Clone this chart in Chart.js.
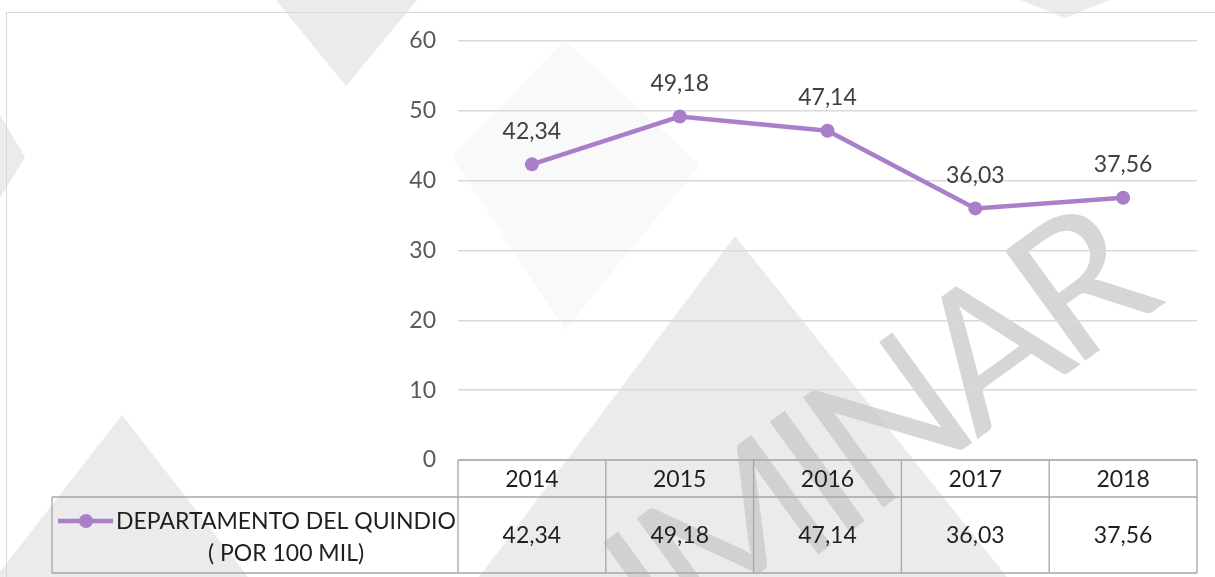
<!DOCTYPE html>
<html>
<head>
<meta charset="utf-8">
<script src="https://cdn.jsdelivr.net/npm/chart.js@4.4.1/dist/chart.umd.min.js"></script>
<style>
  body { margin: 0; background: #fff; }
  #wrap { position: relative; width: 1215px; height: 577px; overflow: hidden; background: #fff; }
  #bg { position: absolute; left: 0; top: 0; }
  #box { position: absolute; left: 6px; top: 12px; width: 1300px; height: 700px; border: 1px solid #d9d9d9; }
  #marca {
    position: absolute; right: 45px; top: 135px;
    font-family: Lato, sans-serif; font-weight: 400; font-size: 190px; line-height: 1;
    letter-spacing: -12px;
    color: rgba(200, 200, 200, 0.75); white-space: nowrap;
    transform-origin: right bottom; transform: rotate(-36deg);
  }
  #grafico { position: absolute; left: 0; top: 0; }
</style>
</head>
<body>
<div id="wrap">
  <svg id="bg" width="1215" height="577">
    <polygon points="452,157 565,40 700,165 565,330" fill="#f9f9f9"/>
    <polygon points="276,0 417,0 346,86" fill="#ebebeb"/>
    <polygon points="0,115 25,157 0,198" fill="#ebebeb"/>
    <polygon points="122,415 248,577 -4,577" fill="#ebebeb"/>
    <polygon points="735,236 1007,577 479,577" fill="#ebebeb"/>
    <polygon points="1020,0 1110,0 1065,18" fill="#ebebeb"/>
  </svg>
  <div id="box"></div>
  <div id="marca">PRELIMINAR</div>
  <canvas id="grafico" width="1215" height="577"></canvas>
</div>
<script>
const anios = ['2014', '2015', '2016', '2017', '2018'];
const tasaQuindio = [42.34, 49.18, 47.14, 36.03, 37.56];
const nombreSerie = ['DEPARTAMENTO DEL QUINDIO', '( POR 100 MIL)'];
const ejeMin = 0;
const ejeMax = 60;
const ejePaso = 10;

const morado = '#a97fc9';
const fuente = 'Lato, sans-serif';

const formato = v => v.toFixed(2).replace('.', ',');

// etiquetas encima de cada punto
const etiquetas = {
    id: 'etiquetas',
    afterDatasetsDraw(chart) {
        const ctx = chart.ctx;
        const meta = chart.getDatasetMeta(0);
        ctx.save();
        ctx.font = '23px ' + fuente;
        ctx.fillStyle = '#404040';
        ctx.textAlign = 'center';
        ctx.textBaseline = 'middle';
        meta.data.forEach((p, i) => {
            ctx.fillText(formato(tasaQuindio[i]), p.x, p.y - 33);
        });
        ctx.restore();
    }
};

// tabla de datos debajo del eje x
const tabla = {
    id: 'tabla',
    afterDraw(chart) {
        const ctx = chart.ctx;
        const area = chart.chartArea;
        const x = chart.scales.x;
        const paso = x.getPixelForValue(1) - x.getPixelForValue(0);
        const y0 = area.bottom, y1 = y0 + 37, y2 = y0 + 113;
        const izq = 52;

        ctx.save();
        ctx.strokeStyle = '#a6a6a6';
        ctx.lineWidth = 1.3;
        ctx.beginPath();
        ctx.moveTo(area.left, y0); ctx.lineTo(area.right, y0);
        ctx.moveTo(izq, y1); ctx.lineTo(area.right, y1);
        ctx.moveTo(izq, y2); ctx.lineTo(area.right, y2);
        ctx.moveTo(izq, y1); ctx.lineTo(izq, y2);
        for (let i = 0; i <= anios.length; i++) {
            const xe = x.getPixelForValue(i) - paso / 2;
            ctx.moveTo(xe, y0); ctx.lineTo(xe, y2);
        }
        ctx.stroke();

        ctx.font = '23px ' + fuente;
        ctx.fillStyle = '#1f1f1f';
        ctx.textAlign = 'center';
        ctx.textBaseline = 'middle';
        anios.forEach((a, i) => {
            const xc = x.getPixelForValue(i);
            ctx.fillText(a, xc, (y0 + y1) / 2 + 1);
            ctx.fillText(formato(tasaQuindio[i]), xc, (y1 + y2) / 2 + 1);
        });

        // clave de la leyenda
        const ly = y1 + 24;
        ctx.strokeStyle = morado;
        ctx.lineWidth = 4.5;
        ctx.beginPath();
        ctx.moveTo(58, ly); ctx.lineTo(113, ly);
        ctx.stroke();
        ctx.fillStyle = morado;
        ctx.beginPath();
        ctx.arc(86, ly, 7, 0, Math.PI * 2);
        ctx.fill();

        ctx.fillStyle = '#1f1f1f';
        ctx.fillText(nombreSerie[0], 286, ly + 1);
        ctx.fillText(nombreSerie[1], 286, ly + 33);
        ctx.restore();
    }
};

new Chart(document.getElementById('grafico'), {
    type: 'line',
    data: {
        labels: anios,
        datasets: [
            {
                label: nombreSerie.join(' '),
                data: tasaQuindio,
                borderColor: morado,
                backgroundColor: morado,
                borderWidth: 4.5,
                pointRadius: 7,
                pointBorderWidth: 0,
                pointBackgroundColor: morado,
                tension: 0,
            }
        ]
    },
    options: {
        responsive: false,
        animation: false,
        devicePixelRatio: 1,
        layout: {
            padding: { top: 41, right: 18, left: 0, bottom: 0 }
        },
        plugins: {
            legend: { display: false },
            tooltip: { enabled: false },
        },
        scales: {
            x: {
                offset: true,
                grid: { display: false },
                border: { display: false },
                ticks: { display: false },
                afterFit: s => { s.height = 117; },
            },
            y: {
                min: ejeMin,
                max: ejeMax,
                ticks: {
                    stepSize: ejePaso,
                    color: '#595959',
                    font: { family: fuente, size: 23 },
                    padding: 22,
                },
                grid: { color: '#d9d9d9', lineWidth: 1.5, drawTicks: false },
                border: { display: false },
                afterFit: s => { s.width = 458; },
            }
        }
    },
    plugins: [etiquetas, tabla]
});
</script>
</body>
</html>
